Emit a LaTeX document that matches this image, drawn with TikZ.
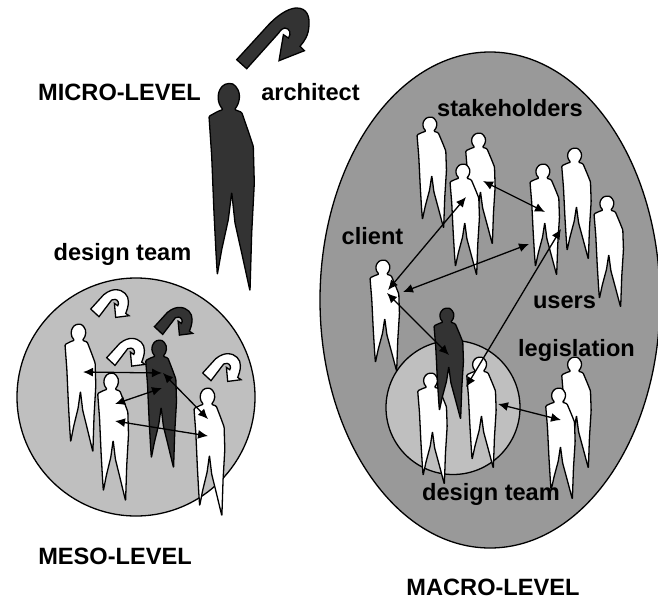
\documentclass[tikz,border=0pt]{standalone}
\usepackage{fontspec}
\setmainfont{Liberation Sans}
\usetikzlibrary{arrows.meta,shapes.geometric}
\tikzset{
  pics/person/.style={code={
    \draw[outline,fill=#1] (14,26.5) .. controls (8,20) and (8,10) .. (12.7,4) .. controls (16,0) and (24,-1) .. (27,4)
      .. controls (32,10) and (31,20) .. (25.5,26.5) -- (32.7,29.3) -- (39.3,48.3) -- (44.3,63.3)
      -- (45.3,100) -- (42.7,150) -- (41,208) -- (32.7,170) -- (26,140) -- (22.7,109.3)
      -- (19.3,136.7) -- (12.7,166.7) -- (8.3,191.7) -- (7,170) -- (5,130) -- (2.7,73.3)
      -- (0,33.3) -- (9,28.3) -- cycle;
  }},
  pics/curl/.style={code={
    \draw[curlline,fill=#1] (0,51.7) -- (31.7,17) .. controls (45,3) and (55,0) .. (60,0)
      .. controls (70,0) and (73,8) .. (72.3,17) .. controls (72,27) and (68,33) .. (63.3,38.3)
      -- (67.7,42.7) -- (42.3,52.7) -- (46.7,26.7) -- (51.7,30) .. controls (55,26) and (53,20) .. (48,20)
      .. controls (46,20) and (44,22) .. (42,25) -- (10,60.7) -- cycle;
  }},
  pics/tinycurl/.style={code={
    \draw[curlline,fill=#1] (0,18.3) -- (13,4) .. controls (18,0) and (22,-1) .. (25,-1)
      .. controls (33,-1) and (38,5) .. (37.7,11) .. controls (37.7,16) and (36,20) .. (35,22.7)
      -- (38.3,25) -- (25,26.7) -- (23.7,12.7) -- (27,15) .. controls (29,13) and (27,8.7) .. (24.3,8.7)
      -- (21,9.3) -- (8.3,26) -- cycle;
  }}
}
\begin{document}
\begin{tikzpicture}[x=1pt,y=-1pt,
    outline/.style={draw=black,line width=1.3pt,line join=round,rounded corners=1pt},
    curlline/.style={draw=black,line width=1.3pt,line join=miter},
    zone/.style={draw=black,line width=1.3pt},
    midman/.style={xscale=.68,yscale=.615},
    smallman/.style={xscale=.65,yscale=.535},
    link/.style={{Latex[length=10pt,width=9pt]}-{Latex[length=10pt,width=9pt]},line width=1.3pt},
    label/.style={anchor=base,inner sep=0pt,font=\fontsize{23.6}{26}\selectfont\bfseries}]
  \useasboundingbox (0,0) rectangle (658,600);

  \pic at (236.7,8) {curl=black!80};
  \pic (arch) at (209,83) {person=black!80};

  \node [zone,circle,fill=black!25,minimum size=238pt,inner sep=0pt] (mesozone) at (136,397) {};
  \pic [midman] (m1) at (65,324) {person=white};
  \pic [midman] (m3) at (145.7,340) {person=black!80};
  \pic [midman] (m2) at (97.7,373) {person=white};
  \pic [midman] (m4) at (194,388) {person=white};
  \pic at (90.7,290.7) {tinycurl=white};
  \pic at (154.4,308.4) {tinycurl=black!80};
  \pic at (106.7,339.4) {tinycurl=white};
  \pic at (202.7,354.7) {tinycurl=white};

  \node [zone,ellipse,fill=black!40,minimum width=340pt,minimum height=496pt,inner sep=0pt] (macrozone) at (490,300) {};
  \node [zone,circle,fill=black!25,minimum size=134pt,inner sep=0pt] (teamzone) at (453,407.5) {};
  \pic [smallman] (s1) at (417,117) {person=white};
  \pic [smallman] (s2) at (465.7,133) {person=white};
  \pic [smallman] (s3) at (450,164) {person=white};
  \pic [smallman] (u1) at (530,164) {person=white};
  \pic [smallman] (u2) at (561.7,148) {person=white};
  \pic [smallman] (u3) at (594,196) {person=white};
  \pic [smallman] (cl) at (370,260) {person=white};
  \pic [smallman] (d1) at (417.7,373) {person=white};
  \pic [smallman] (d0) at (434,308) {person=black!80};
  \pic [smallman] (d2) at (466.7,357) {person=white};
  \pic [smallman] (l1) at (561.7,357) {person=white};
  \pic [smallman] (l2) at (545.7,388) {person=white};

  \coordinate (m1r) at (83,372);
  \coordinate (m3l) at (162,373);
  \coordinate (m2a) at (115,404);
  \coordinate (m3b) at (162,388);
  \coordinate (m3c) at (163,373);
  \coordinate (m4a) at (208,419);
  \coordinate (m2b) at (115,421);
  \coordinate (m4b) at (208,436);
  \coordinate (s2r) at (483,181);
  \coordinate (u1a) at (545,212);
  \coordinate (cla) at (388,290);
  \coordinate (s3b) at (466,197);
  \coordinate (clb) at (403,292);
  \coordinate (u1b) at (529,244);
  \coordinate (clc) at (387,293);
  \coordinate (d0a) at (449,355);
  \coordinate (d2a) at (466,387);
  \coordinate (u1c) at (561,229);
  \coordinate (teamr) at (498,404);
  \coordinate (l2a) at (561,420);

  \path
  (m1r) edge [link] (m3l)
  (m2a) edge [link] (m3b)
  (m3c) edge [link] (m4a)
  (m2b) edge [link] (m4b)
  (s2r) edge [link] (u1a)
  (cla) edge [link] (s3b)
  (clb) edge [link] (u1b)
  (clc) edge [link] (d0a)
  (d2a) edge [link] (u1c)
  (teamr) edge [link] (l2a)
  ;

  \node [label] (micro) at (119.5,100.7) {MICRO-LEVEL};
  \node [label] (architect) at (310.5,100.7) {architect};
  \node [label] (team1) at (122.5,260.7) {design team};
  \node [label] (meso) at (115,564.3) {MESO-LEVEL};
  \node [label] (macro) at (493,595.5) {MACRO-LEVEL};
  \node [label] (holders) at (510,116.7) {stakeholders};
  \node [label] (client) at (372.5,244.3) {client};
  \node [label] (users) at (564.5,308.3) {users};
  \node [label] (legis) at (576.5,356.7) {legislation};
  \node [label] (team2) at (491,500.7) {design team};
\end{tikzpicture}
\end{document}
